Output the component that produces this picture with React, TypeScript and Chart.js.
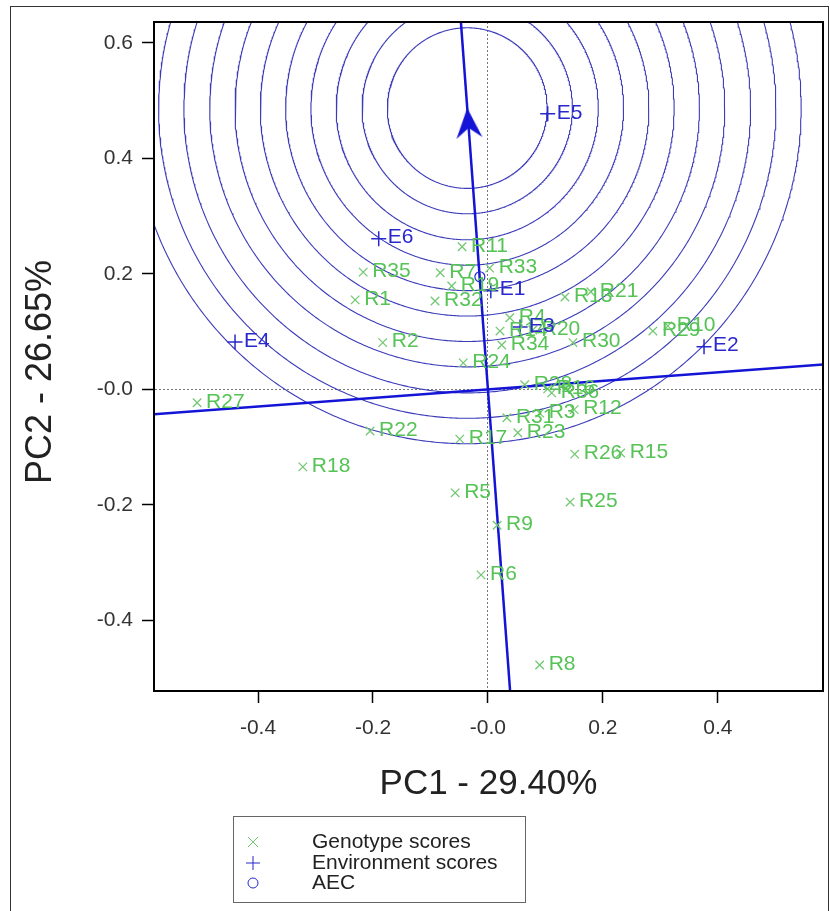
import React, { useEffect, useRef } from "react";
import { Chart, registerables } from "chart.js";

Chart.register(...registerables);

// ---- Data ----
const genotypeNames = [
  "R1", "R2", "R3", "R4", "R5", "R6", "R7", "R8", "R9", "R10", "R11", "R12",
  "R13", "R14", "R15", "R16", "R17", "R18", "R19", "R20", "R21", "R22", "R23", "R24",
  "R25", "R26", "R27", "R28", "R29", "R30", "R31", "R32", "R33", "R34", "R35", "R36",
];
const genotypePC1 = [
  -0.231, -0.183, 0.090, 0.038, -0.057, -0.012, -0.083, 0.090, 0.016, 0.313, -0.045, 0.150,
  0.134, 0.021, 0.231, 0.104, -0.049, -0.322, -0.063, 0.078, 0.179, -0.205, 0.052, -0.043,
  0.143, 0.151, -0.506, 0.064, 0.287, 0.148, 0.033, -0.092, 0.003, 0.024, -0.217, 0.111,
];
const genotypePC2 = [
  0.155, 0.081, -0.041, 0.124, -0.179, -0.321, 0.202, -0.477, -0.235, 0.110, 0.247, -0.035,
  0.160, 0.101, -0.110, 0.001, -0.086, -0.134, 0.179, 0.103, 0.169, -0.072, -0.075, 0.046,
  -0.195, -0.112, -0.023, 0.008, 0.101, 0.081, -0.049, 0.153, 0.210, 0.077, 0.203, -0.006,
];

const envNames = ["E1", "E2", "E3", "E4", "E5", "E6"];
const envPC1 = [0.005, 0.376, 0.056, -0.44, 0.104, -0.19];
const envPC2 = [0.171, 0.074, 0.108, 0.082, 0.477, 0.261];

const aecPC1 = [-0.014];
const aecPC2 = [0.195];

// concentric circles (centre on the AEC abscissa) and their radii
const circleCenterPC1 = -0.036;
const circleCenterPC2 = 0.487;
const circleRadii = [0.139, 0.183, 0.228, 0.272, 0.316, 0.36, 0.404, 0.448, 0.493, 0.537, 0.581];

const xTicks = [-0.4, -0.2, 0, 0.2, 0.4];
const yTicks = [-0.4, -0.2, 0, 0.2, 0.4, 0.6];
const xMin = -0.581;
const xMax = 0.583;
const yMin = -0.522;
const yMax = 0.636;

const xTitle = "PC1 - 29.40%";
const yTitle = "PC2 - 26.65%";
const legendLabels = ["Genotype scores", "Environment scores", "AEC"];

// ---- Styles ----
const FONT = "'Liberation Sans', Arial, sans-serif";
const GREEN_MARK = "rgb(115, 200, 115)";
const GREEN_TEXT = "rgb(85, 195, 85)";
const BLUE = "rgb(40, 40, 205)";
const CIRCLE_BLUE = "rgb(60, 60, 185)";
const LINE_BLUE = "rgb(20, 20, 215)";

function fmtTick(v: number): string {
  if (Math.abs(v) < 1e-9) return "-0.0";
  return v.toFixed(1);
}

function makeArrow(): HTMLCanvasElement {
  const c = document.createElement("canvas");
  c.width = 28;
  c.height = 64;
  const g = c.getContext("2d")!;
  g.fillStyle = LINE_BLUE;
  g.beginPath();
  g.moveTo(14, 32);
  g.lineTo(27, 62);
  g.lineTo(14, 52);
  g.lineTo(1, 62);
  g.closePath();
  g.fill();
  return c;
}

const overlayPlugin = {
  id: "overlay",
  beforeDraw(chart: any) {
    const ctx = chart.ctx;
    ctx.save();
    ctx.fillStyle = "#fff";
    ctx.fillRect(0, 0, chart.width, chart.height);
    ctx.restore();
  },
  afterDatasetsDraw(chart: any) {
    const ctx = chart.ctx;
    ctx.save();
    ctx.font = `21px ${FONT}`;
    ctx.textBaseline = "middle";
    ctx.textAlign = "left";
    const gMeta = chart.getDatasetMeta(0);
    ctx.fillStyle = GREEN_TEXT;
    gMeta.data.forEach((pt: any, i: number) => {
      ctx.fillText(genotypeNames[i], pt.x + 9, pt.y - 1);
    });
    const eMeta = chart.getDatasetMeta(1);
    ctx.fillStyle = BLUE;
    eMeta.data.forEach((pt: any, i: number) => {
      ctx.fillText(envNames[i], pt.x + 9, pt.y - 1);
    });
    ctx.restore();
  },
  afterDraw(chart: any) {
    const ctx = chart.ctx;
    const a = chart.chartArea;
    ctx.save();
    // plot frame
    ctx.strokeStyle = "#000";
    ctx.lineWidth = 2;
    ctx.strokeRect(a.left, a.top, a.right - a.left, a.bottom - a.top);
    // outer figure border
    ctx.strokeStyle = "#333";
    ctx.lineWidth = 1;
    ctx.strokeRect(10.5, 6.5, 818, 940);
    // y axis title
    ctx.fillStyle = "#222";
    ctx.font = `36px ${FONT}`;
    ctx.textAlign = "center";
    ctx.textBaseline = "middle";
    ctx.translate(41, 372);
    ctx.rotate(-Math.PI / 2);
    ctx.fillText(yTitle, 0, 0);
    ctx.setTransform(1, 0, 0, 1, 0, 0);
    // legend
    const lx = 233.5, ly = 816.5, lw = 292, lh = 86;
    ctx.strokeStyle = "#666";
    ctx.lineWidth = 1;
    ctx.strokeRect(lx, ly, lw, lh);
    const mx = 253;
    const rows = [842, 863, 883];
    ctx.strokeStyle = GREEN_MARK;
    ctx.beginPath();
    ctx.moveTo(mx - 5, rows[0] - 5);
    ctx.lineTo(mx + 5, rows[0] + 5);
    ctx.moveTo(mx + 5, rows[0] - 5);
    ctx.lineTo(mx - 5, rows[0] + 5);
    ctx.stroke();
    ctx.strokeStyle = BLUE;
    ctx.beginPath();
    ctx.moveTo(mx - 7, rows[1]);
    ctx.lineTo(mx + 7, rows[1]);
    ctx.moveTo(mx, rows[1] - 7);
    ctx.lineTo(mx, rows[1] + 7);
    ctx.stroke();
    ctx.beginPath();
    ctx.arc(mx, rows[2], 5, 0, Math.PI * 2);
    ctx.stroke();
    ctx.fillStyle = "#222";
    ctx.font = `21px ${FONT}`;
    ctx.textBaseline = "middle";
    ctx.textAlign = "left";
    legendLabels.forEach((t, i) => ctx.fillText(t, 312, rows[i]));
    ctx.restore();
  },
};

export default function App() {
  const ref = useRef<HTMLCanvasElement | null>(null);

  useEffect(() => {
    if (!ref.current) return;
    const genotypeData = genotypePC1.map((x, i) => ({ x, y: genotypePC2[i] }));
    const envData = envPC1.map((x, i) => ({ x, y: envPC2[i] }));
    const aecData = aecPC1.map((x, i) => ({ x, y: aecPC2[i] }));

    const circleSets = circleRadii.map((r) => {
      const pts: { x: number; y: number }[] = [];
      for (let k = 0; k <= 720; k += 1) {
        const t = (k * Math.PI) / 360;
        pts.push({ x: circleCenterPC1 + r * Math.cos(t), y: circleCenterPC2 + r * Math.sin(t) });
      }
      return {
        data: pts,
        showLine: true,
        pointRadius: 0,
        borderColor: CIRCLE_BLUE,
        borderWidth: 1.1,
        fill: false,
        clip: 0,
        order: 3,
      };
    });

    const abscissa = [-1.3, 1.45].map((t) => ({ x: circleCenterPC1 * t, y: circleCenterPC2 * t }));
    const ordinate = [-1.5, 1.5].map((s) => ({ x: circleCenterPC2 * s, y: -circleCenterPC1 * s }));
    const arrowAngle = (Math.atan2(circleCenterPC1, circleCenterPC2) * 180) / Math.PI;

    const chart = new Chart(ref.current, {
      type: "scatter",
      data: {
        datasets: [
          {
            data: genotypeData,
            pointStyle: "crossRot",
            pointRadius: 6,
            borderColor: GREEN_MARK,
            backgroundColor: GREEN_MARK,
            pointBorderWidth: 1.3,
            order: 0,
          } as any,
          {
            data: envData,
            pointStyle: "cross",
            pointRadius: 7.5,
            borderColor: BLUE,
            backgroundColor: BLUE,
            pointBorderWidth: 1.5,
            order: 0,
          },
          {
            data: aecData,
            pointStyle: "circle",
            pointRadius: 5,
            borderColor: BLUE,
            backgroundColor: "rgba(0,0,0,0)",
            pointBorderWidth: 1.2,
            order: 0,
          },
          {
            data: [{ x: circleCenterPC1, y: circleCenterPC2 }],
            pointStyle: makeArrow(),
            rotation: arrowAngle,
            pointRadius: 10,
            order: 1,
          },
          {
            data: abscissa,
            showLine: true,
            pointRadius: 0,
            borderColor: LINE_BLUE,
            borderWidth: 2.5,
            clip: 0,
            order: 2,
          },
          {
            data: ordinate,
            showLine: true,
            pointRadius: 0,
            borderColor: LINE_BLUE,
            borderWidth: 2.5,
            clip: 0,
            order: 2,
          },
          ...circleSets,
        ] as any,
      },
      options: {
        animation: false,
        responsive: false,
        devicePixelRatio: 1,
        events: [],
        layout: { autoPadding: false, padding: { left: 0, top: 22, right: 7, bottom: 0 } },
        plugins: {
          legend: { display: false },
          tooltip: { enabled: false },
        },
        scales: {
          x: {
            type: "linear",
            position: "bottom",
            min: xMin,
            max: xMax,
            afterBuildTicks: (s: any) => {
              s.ticks = xTicks.map((v) => ({ value: v }));
            },
            afterFit: (s: any) => {
              s.height = 220;
              s.paddingLeft = 0;
              s.paddingRight = 0;
            },
            ticks: {
              callback: (v: any) => fmtTick(Number(v)),
              font: { family: FONT, size: 21 },
              color: "#333",
              padding: 13,
              maxRotation: 0,
              autoSkip: false,
            },
            grid: {
              color: (c: any) => (c.tick && Math.abs(c.tick.value) < 1e-9 ? "#777" : "rgba(0,0,0,0)"),
              lineWidth: 1,
              tickColor: "#000",
              tickLength: 12,
              tickWidth: 1.5,
            },
            border: { color: "#000", width: 2, dash: [2, 2] },
            title: {
              display: true,
              text: xTitle,
              font: { family: FONT, size: 35 },
              color: "#222",
              padding: { top: 0, bottom: 106 },
            },
          },
          y: {
            type: "linear",
            position: "left",
            min: yMin,
            max: yMax,
            afterBuildTicks: (s: any) => {
              s.ticks = yTicks.map((v) => ({ value: v }));
            },
            afterFit: (s: any) => {
              s.width = 154;
              s.paddingTop = 0;
              s.paddingBottom = 0;
            },
            ticks: {
              callback: (v: any) => fmtTick(Number(v)),
              font: { family: FONT, size: 21 },
              color: "#333",
              padding: 9,
              autoSkip: false,
            },
            grid: {
              color: (c: any) => (c.tick && Math.abs(c.tick.value) < 1e-9 ? "#777" : "rgba(0,0,0,0)"),
              lineWidth: 1,
              tickColor: "#000",
              tickLength: 12,
              tickWidth: 1.5,
            },
            border: { color: "#000", width: 2, dash: [2, 2] },
            title: { display: false },
          },
        },
      },
      plugins: [overlayPlugin],
    } as any);

    return () => chart.destroy();
  }, []);

  return (
    <div style={{ position: "absolute", left: 0, top: 0, width: 830, height: 911, background: "#fff" }}>
      <canvas ref={ref} width={830} height={911} style={{ width: 830, height: 911, display: "block" }} />
    </div>
  );
}
